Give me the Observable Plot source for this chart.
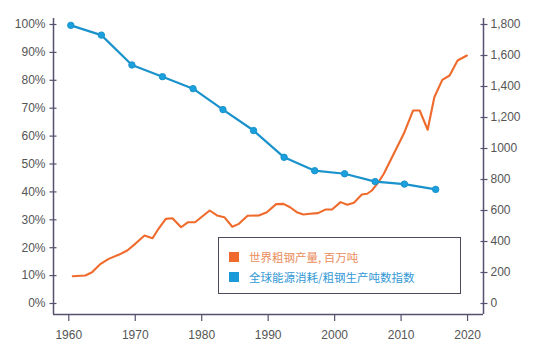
<!DOCTYPE html>
<html><head><meta charset="utf-8">
<script src="https://cdn.jsdelivr.net/npm/d3@7"></script>
<script src="https://cdn.jsdelivr.net/npm/@observablehq/plot@0.6"></script>
<style>
body{margin:0;background:#fff;}
#wrap{position:relative;width:546px;height:361px;}
#legend{position:absolute;left:218px;top:237px;width:243px;height:57px;border:1.5px solid #4b4b5c;background:#fff;box-sizing:border-box;font-family:"Noto Sans CJK SC",sans-serif;font-size:11.5px;}
.row{position:absolute;left:10px;display:flex;align-items:center;height:12px;white-space:nowrap;}
.sw{width:10px;height:10px;margin-right:10px;flex:none;}
</style>
</head><body><div id="wrap"></div>
<script>
// Blue series: global energy consumption / tonne of crude steel index (%)
const indexYears  = [1960.3, 1964.9, 1969.5, 1974.1, 1978.7, 1983.2, 1987.8, 1992.4, 1997.0, 2001.5, 2006.1, 2010.5, 2015.2];
const indexValues = [99.7, 96.2, 85.5, 81.3, 77.0, 69.5, 62.0, 52.4, 47.6, 46.5, 43.7, 42.8, 40.9];

// Orange series: world crude steel production, million tonnes
const steelYears  = [1960.6, 1962.5, 1963.5, 1964.8, 1966.0, 1967.5, 1968.8, 1970.0, 1971.4, 1972.6, 1973.5, 1974.6, 1975.6, 1976.9, 1977.9, 1979.0, 1981.2, 1982.3, 1983.4, 1984.6, 1985.6, 1986.9, 1988.6, 1989.8, 1991.2, 1992.3, 1993.3, 1994.3, 1995.3, 1996.3, 1997.5, 1998.6, 1999.6, 2000.9, 2001.9, 2002.9, 2004.1, 2004.9, 2005.6, 2006.6, 2007.4, 2008.9, 2010.4, 2011.8, 2012.8, 2014.0, 2015.0, 2016.2, 2017.3, 2018.5, 2019.9];
const steelValues = [176, 181, 202, 256, 288, 314, 342, 385, 439, 421, 482, 546, 550, 492, 524, 524, 600, 568, 557, 495, 514, 566, 568, 589, 641, 643, 621, 589, 574, 579, 583, 606, 606, 654, 637, 650, 703, 708, 729, 783, 837, 966, 1095, 1245, 1245, 1121, 1331, 1443, 1471, 1568, 1600];

const xTicks = [1960, 1970, 1980, 1990, 2000, 2010, 2020];
const xTickLabels = ["1960", "1970", "1980", "1990", "2000", "2010", "2020"];
const leftTicks = [0, 10, 20, 30, 40, 50, 60, 70, 80, 90, 100];
const leftTickLabels = ["0%", "10%", "20%", "30%", "40%", "50%", "60%", "70%", "80%", "90%", "100%"];
const rightTicks = [0, 200, 400, 600, 800, 1000, 1200, 1400, 1600, 1800];
const rightTickLabels = ["0", "200", "400", "600", "800", "1000", "1,200", "1,400", "1,600", "1,800"];
const rightMax = 1800;
const seriesNames = ["世界粗钢产量, 百万吨", "全球能源消耗/粗钢生产吨数指数"];

const orange = "#ef6a2b", blueLine = "#1a92cb", blueDot = "#19a0dd";
const axisColor = "#55526f", textColor = "#555";

const index = indexYears.map((y, i) => ({year: y, value: indexValues[i]}));
const steel = steelYears.map((y, i) => ({year: y, value: steelValues[i]}));
const toPct = v => v * 100 / rightMax;
const rightPos = rightTicks.map(toPct);

const xDomain = [1957.7, 2022.4], yDomain = [-3.94, 102.15];
const blank = () => "";

const chart = Plot.plot({
  width: 546, height: 361,
  marginLeft: 53, marginRight: 63, marginTop: 18, marginBottom: 47,
  x: {domain: xDomain, label: null},
  y: {domain: yDomain, label: null},
  style: {fontFamily: "'Liberation Sans', Arial, sans-serif", fontSize: "12px", color: textColor, background: "#fff"},
  marks: [
    Plot.ruleX([xDomain[0]], {stroke: axisColor, strokeWidth: 1.5}),
    Plot.ruleX([xDomain[1]], {stroke: axisColor, strokeWidth: 1.5}),
    Plot.ruleY([yDomain[0]], {stroke: axisColor, strokeWidth: 1.5}),
    Plot.axisY({anchor: "left", ticks: leftTicks, tickSize: 7, dx: 3.5, stroke: axisColor, strokeWidth: 1.2, tickFormat: blank, label: null}),
    Plot.axisY({anchor: "left", ticks: leftTicks, tickSize: 0, tickPadding: 8, fill: textColor, label: null,
      tickFormat: d => leftTickLabels[leftTicks.indexOf(d)]}),
    Plot.axisY({anchor: "right", ticks: rightPos, tickSize: 7, dx: -3.5, stroke: axisColor, strokeWidth: 1.2, tickFormat: blank, label: null}),
    Plot.axisY({anchor: "right", ticks: rightPos, tickSize: 0, tickPadding: 7, fill: textColor, label: null,
      tickFormat: d => rightTickLabels[rightPos.indexOf(d)]}),
    Plot.axisX({anchor: "bottom", ticks: xTicks, tickSize: 7, tickPadding: 9, stroke: axisColor, strokeWidth: 1.2, fill: textColor, label: null,
      tickFormat: d => xTickLabels[xTicks.indexOf(d)]}),
    Plot.line(steel, {x: "year", y: d => toPct(d.value), stroke: orange, strokeWidth: 2.1, strokeLinejoin: "round"}),
    Plot.line(index, {x: "year", y: "value", stroke: blueLine, strokeWidth: 2.2}),
    Plot.dot(index, {x: "year", y: "value", r: 3.2, fill: blueDot, stroke: blueLine, strokeWidth: 1})
  ]
});
const wrap = document.getElementById("wrap");
wrap.appendChild(chart);

const legend = document.createElement("div");
legend.id = "legend";
const colors = [orange, "#1a9ad9"], textColors = ["#ea8d5c", "#3399d6"], tops = [13, 33];
seriesNames.forEach((name, i) => {
  const row = document.createElement("div");
  row.className = "row";
  row.style.top = tops[i] + "px";
  row.innerHTML = `<span class="sw" style="background:${colors[i]}"></span><span style="color:${textColors[i]}">${name}</span>`;
  legend.appendChild(row);
});
wrap.appendChild(legend);
</script>
</body></html>
